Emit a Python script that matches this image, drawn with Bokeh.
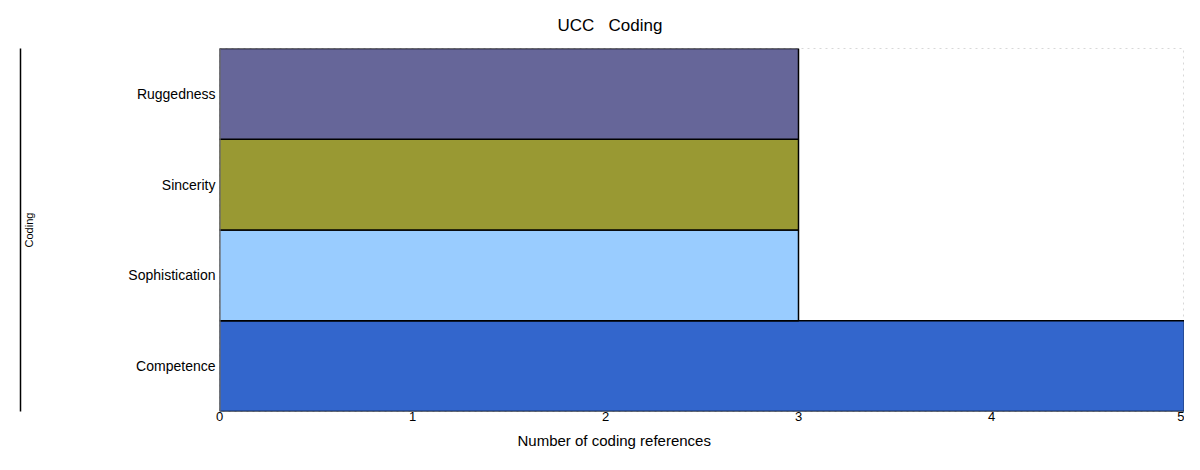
from bokeh.plotting import figure
from bokeh.models import FactorRange, Range1d, FixedTicker, Span, Title, CategoricalAxis
from bokeh.embed import file_html
from bokeh.resources import INLINE

categories = ["Competence", "Sophistication", "Sincerity", "Ruggedness"]
references = [5, 3, 3, 3]
colors = ["#3366CC", "#99CCFF", "#999933", "#666699"]
x_ticks = [0, 1, 2, 3, 4, 5]
title_text = "UCC\u00a0\u00a0\u00a0Coding"
x_title = "Number of coding references"
y_title = "Coding"

FONT = "Liberation Sans"
FL, FB = 219, 412

p = figure(width=1184, height=454, output_backend="svg", toolbar_location=None,
           y_range=FactorRange(factors=categories), x_range=Range1d(0, 5),
           min_border_left=FL, min_border_right=0, min_border_top=48, min_border_bottom=454 - FB)

p.hbar(y=categories, right=references, left=0, height=1.0, fill_color=colors,
       line_color="black", line_width=1.5)

p.add_layout(Span(location=0, dimension="height", line_color="#808080", line_width=2))

p.xgrid.visible = False
p.ygrid.visible = False
p.outline_line_color = "#d8d8d8"
p.outline_line_dash = "dotted"
p.background_fill_color = "white"
p.border_fill_color = "white"

p.title.text = title_text
p.title.align = "left"
p.title.offset = 338
p.title.text_font = FONT
p.title.text_font_size = "17px"
p.title.text_font_style = "normal"
p.title.text_color = "black"
p.title.standoff = 27

xa = p.xaxis[0]
xa.ticker = FixedTicker(ticks=x_ticks)
xa.major_tick_line_color = None
xa.minor_tick_line_color = None
xa.major_tick_out = 0
xa.major_tick_in = 0
xa.axis_line_color = None
xa.major_label_standoff = 0
xa.major_label_text_font = FONT
xa.major_label_text_font_size = "13px"
xa.major_label_text_color = "black"

p.add_layout(Title(text=x_title, align="left", offset=298, text_font=FONT,
                   text_font_size="15px", text_font_style="normal", text_color="black",
                   standoff=12), "below")

ya = p.yaxis[0]
ya.major_tick_line_color = None
ya.major_tick_out = 0
ya.major_tick_in = 0
ya.axis_line_color = None
ya.major_label_standoff = 4
ya.major_label_text_font = FONT
ya.major_label_text_font_size = "14px"
ya.major_label_text_color = "black"
ya.axis_label = y_title
ya.axis_label_text_font = FONT
ya.axis_label_text_font_size = "11px"
ya.axis_label_text_font_style = "normal"
ya.axis_label_text_color = "black"
ya.axis_label_standoff = 90

spacer = CategoricalAxis(ticker=FixedTicker(ticks=[]), major_tick_line_color=None,
                         major_tick_out=10, major_tick_in=0, major_label_standoff=0,
                         axis_line_color=None)
p.add_layout(spacer, "left")

edge = CategoricalAxis(ticker=FixedTicker(ticks=[]), major_tick_line_color=None,
                       major_tick_out=0, major_tick_in=0, major_label_standoff=0,
                       axis_line_color="black", axis_line_width=1.5)
p.add_layout(edge, "left")

open("out.html", "w").write(file_html(p, INLINE))
